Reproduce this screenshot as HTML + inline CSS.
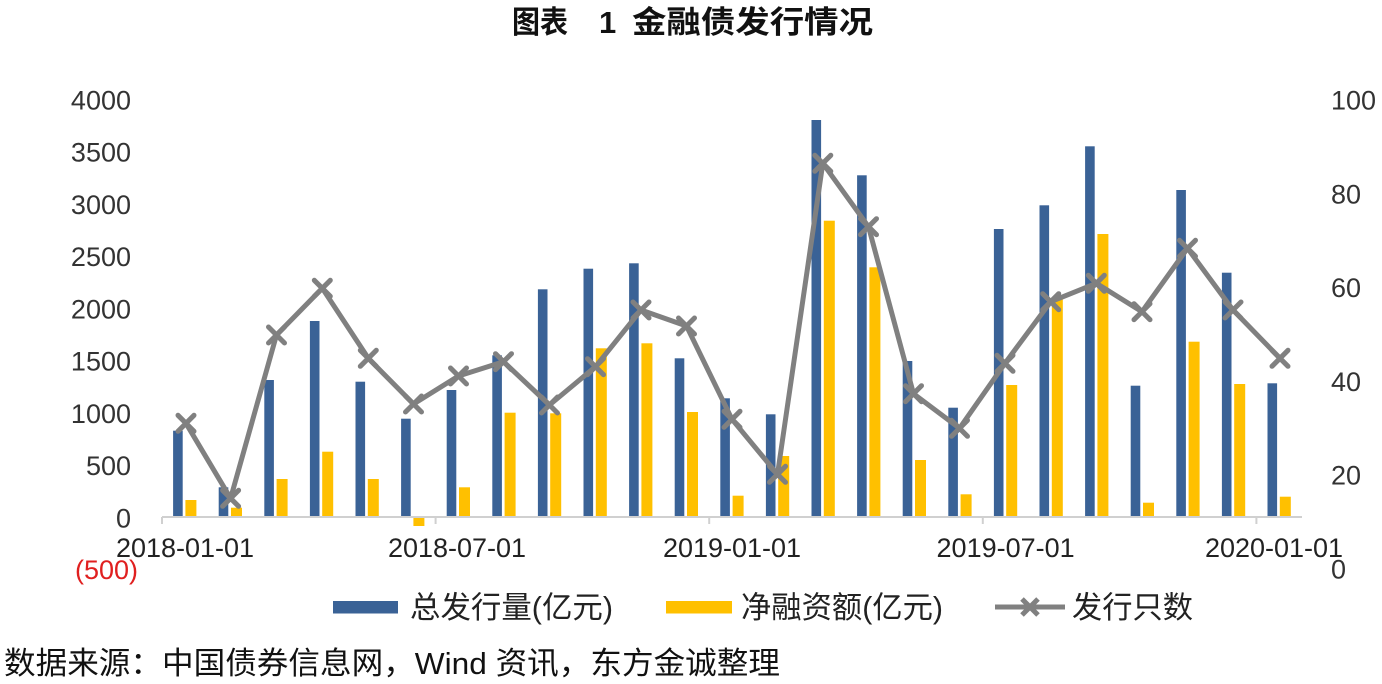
<!DOCTYPE html>
<html><head><meta charset="utf-8"><style>
html,body{margin:0;padding:0;background:#fff;}
svg{display:block;}
</style></head><body>
<svg width="1382" height="684" viewBox="0 0 1382 684" xmlns="http://www.w3.org/2000/svg" font-family="'Liberation Sans','Noto Sans CJK SC',sans-serif">
<rect width="1382" height="684" fill="#fff"/>
<!-- title -->
<g font-family="'Liberation Sans','Noto Sans CJK SC',sans-serif" font-weight="bold" font-size="31" fill="#111">
<text x="512" y="33" textLength="56" lengthAdjust="spacingAndGlyphs">图表</text>
<text x="599" y="33">1</text>
<text x="632" y="33" textLength="241" lengthAdjust="spacingAndGlyphs">金融债发行情况</text>
</g>
<!-- left axis labels -->
<g font-size="27" fill="#333" text-anchor="end">
<text x="131" y="109.5">4000</text>
<text x="131" y="161.7">3500</text>
<text x="131" y="214">3000</text>
<text x="131" y="266.2">2500</text>
<text x="131" y="318.5">2000</text>
<text x="131" y="370.7">1500</text>
<text x="131" y="423">1000</text>
<text x="131" y="475.2">500</text>
<text x="131" y="527.5">0</text>
<text x="138" y="579" fill="#e02020">(500)</text>
</g>
<!-- right axis labels -->
<g font-size="27" fill="#333">
<text x="1331" y="109.5">100</text>
<text x="1331" y="203.3">80</text>
<text x="1331" y="297.1">60</text>
<text x="1331" y="390.9">40</text>
<text x="1331" y="484.7">20</text>
<text x="1331" y="578.5">0</text>
</g>
<!-- x axis labels -->
<g font-size="27" fill="#222" text-anchor="middle">
<text x="185" y="557">2018-01-01</text>
<text x="457" y="557">2018-07-01</text>
<text x="732" y="557">2019-01-01</text>
<text x="1005.6" y="557">2019-07-01</text>
<text x="1274" y="557">2020-01-01</text>
</g>
<!-- axis line -->
<g stroke="#d0d0d0" stroke-width="2" fill="none">
<line x1="162" y1="517" x2="1302" y2="517"/>
<line x1="162" y1="517" x2="162" y2="524"/>
<line x1="435.6" y1="517" x2="435.6" y2="524"/>
<line x1="709.2" y1="517" x2="709.2" y2="524"/>
<line x1="982.8" y1="517" x2="982.8" y2="524"/>
<line x1="1256.4" y1="517" x2="1256.4" y2="524"/>
</g>
<!-- blue bars -->
<g fill="#3a6296">
<rect x="173.1" y="430.7" width="9.6" height="85.3"/>
<rect x="218.7" y="487.3" width="9.6" height="28.7"/>
<rect x="264.3" y="380" width="9.6" height="136"/>
<rect x="309.9" y="321" width="9.6" height="195"/>
<rect x="355.5" y="381.7" width="9.6" height="134.3"/>
<rect x="401.1" y="418.7" width="9.6" height="97.3"/>
<rect x="446.7" y="390" width="9.6" height="126"/>
<rect x="492.3" y="355.3" width="9.6" height="160.7"/>
<rect x="537.9" y="289.3" width="9.6" height="226.7"/>
<rect x="583.5" y="268.7" width="9.6" height="247.3"/>
<rect x="629.1" y="263.3" width="9.6" height="252.7"/>
<rect x="674.7" y="358.3" width="9.6" height="157.7"/>
<rect x="720.3" y="398.3" width="9.6" height="117.7"/>
<rect x="765.9" y="414.3" width="9.6" height="101.7"/>
<rect x="811.5" y="120" width="9.6" height="396"/>
<rect x="857.1" y="175.3" width="9.6" height="340.7"/>
<rect x="902.7" y="361" width="9.6" height="155"/>
<rect x="948.3" y="407.7" width="9.6" height="108.3"/>
<rect x="993.9" y="229" width="9.6" height="287"/>
<rect x="1039.5" y="205.3" width="9.6" height="310.7"/>
<rect x="1085.1" y="146.3" width="9.6" height="369.7"/>
<rect x="1130.7" y="385.7" width="9.6" height="130.3"/>
<rect x="1176.3" y="190" width="9.6" height="326"/>
<rect x="1221.9" y="272.7" width="9.6" height="243.3"/>
<rect x="1267.5" y="383.3" width="9.6" height="132.7"/>
</g>
<!-- yellow bars -->
<g fill="#ffc000">
<rect x="185.4" y="500" width="11" height="16"/>
<rect x="231.0" y="507.7" width="11" height="8.3"/>
<rect x="276.6" y="479" width="11" height="37"/>
<rect x="322.2" y="451.7" width="11" height="64.3"/>
<rect x="367.8" y="479" width="11" height="37"/>
<rect x="413.4" y="518" width="11" height="8"/>
<rect x="459.0" y="487.3" width="11" height="28.7"/>
<rect x="504.6" y="412.7" width="11" height="103.3"/>
<rect x="550.2" y="413.3" width="11" height="102.7"/>
<rect x="595.8" y="348.3" width="11" height="167.7"/>
<rect x="641.4" y="343.3" width="11" height="172.7"/>
<rect x="687.0" y="412" width="11" height="104"/>
<rect x="732.6" y="495.7" width="11" height="20.3"/>
<rect x="778.2" y="456" width="11" height="60"/>
<rect x="823.8" y="220.7" width="11" height="295.3"/>
<rect x="869.4" y="267.3" width="11" height="248.7"/>
<rect x="915.0" y="460" width="11" height="56"/>
<rect x="960.6" y="494.3" width="11" height="21.7"/>
<rect x="1006.2" y="385" width="11" height="131"/>
<rect x="1051.8" y="298.3" width="11" height="217.7"/>
<rect x="1097.4" y="234" width="11" height="282"/>
<rect x="1143.0" y="502.7" width="11" height="13.3"/>
<rect x="1188.6" y="341.7" width="11" height="174.3"/>
<rect x="1234.2" y="384" width="11" height="132"/>
<rect x="1279.8" y="496.7" width="11" height="19.3"/>
</g>
<!-- line -->
<polyline fill="none" stroke="#808080" stroke-width="5" stroke-linejoin="round" points="186,423.3 230.6,498.3 276.5,335 322.3,288.3 368.3,358.3 413.5,404 458.5,376 503.5,361.7 549.5,405 595.5,366.7 641,310 686.5,326 732,419.3 777.5,474.3 822.8,163.3 868.5,226.7 913.5,393.7 959.5,428.3 1005,363.3 1050.7,301.7 1096.3,283.3 1142,311.7 1187.5,248.3 1233,310 1280,358.3"/>
<!-- markers -->
<g stroke="#808080" stroke-width="5" fill="none" stroke-linecap="round">
<path d="M178,415.3l16,16m0,-16l-16,16"/>
<path d="M222.6,490.3l16,16m0,-16l-16,16"/>
<path d="M268.5,327l16,16m0,-16l-16,16"/>
<path d="M314.3,280.3l16,16m0,-16l-16,16"/>
<path d="M360.3,350.3l16,16m0,-16l-16,16"/>
<path d="M405.5,396l16,16m0,-16l-16,16"/>
<path d="M450.5,368l16,16m0,-16l-16,16"/>
<path d="M495.5,353.7l16,16m0,-16l-16,16"/>
<path d="M541.5,397l16,16m0,-16l-16,16"/>
<path d="M587.5,358.7l16,16m0,-16l-16,16"/>
<path d="M633,302l16,16m0,-16l-16,16"/>
<path d="M678.5,318l16,16m0,-16l-16,16"/>
<path d="M724,411.3l16,16m0,-16l-16,16"/>
<path d="M769.5,466.3l16,16m0,-16l-16,16"/>
<path d="M814.8,155.3l16,16m0,-16l-16,16"/>
<path d="M860.5,218.7l16,16m0,-16l-16,16"/>
<path d="M905.5,385.7l16,16m0,-16l-16,16"/>
<path d="M951.5,420.3l16,16m0,-16l-16,16"/>
<path d="M997,355.3l16,16m0,-16l-16,16"/>
<path d="M1042.7,293.7l16,16m0,-16l-16,16"/>
<path d="M1088.3,275.3l16,16m0,-16l-16,16"/>
<path d="M1134,303.7l16,16m0,-16l-16,16"/>
<path d="M1179.5,240.3l16,16m0,-16l-16,16"/>
<path d="M1225,302l16,16m0,-16l-16,16"/>
<path d="M1272,350.3l16,16m0,-16l-16,16"/>
</g>
<!-- legend -->
<rect x="333" y="601" width="65" height="12.5" fill="#3a6296"/>
<text x="410" y="618" font-size="30.5" fill="#222" textLength="203" lengthAdjust="spacingAndGlyphs">总发行量(亿元)</text>
<rect x="666" y="601" width="66" height="12.5" fill="#ffc000"/>
<text x="741" y="618" font-size="30.5" fill="#222" textLength="202" lengthAdjust="spacingAndGlyphs">净融资额(亿元)</text>
<line x1="995" y1="607" x2="1065" y2="607" stroke="#808080" stroke-width="5"/>
<path d="M1022,599l16,16m0,-16l-16,16" stroke="#808080" stroke-width="5" fill="none"/>
<text x="1072" y="618" font-size="30.5" fill="#222" textLength="121" lengthAdjust="spacingAndGlyphs">发行只数</text>
<!-- footer -->
<text x="4" y="674" font-size="31" fill="#111" textLength="776" lengthAdjust="spacingAndGlyphs">数据来源：中国债券信息网，Wind 资讯，东方金诚整理</text>
</svg>
</body></html>
